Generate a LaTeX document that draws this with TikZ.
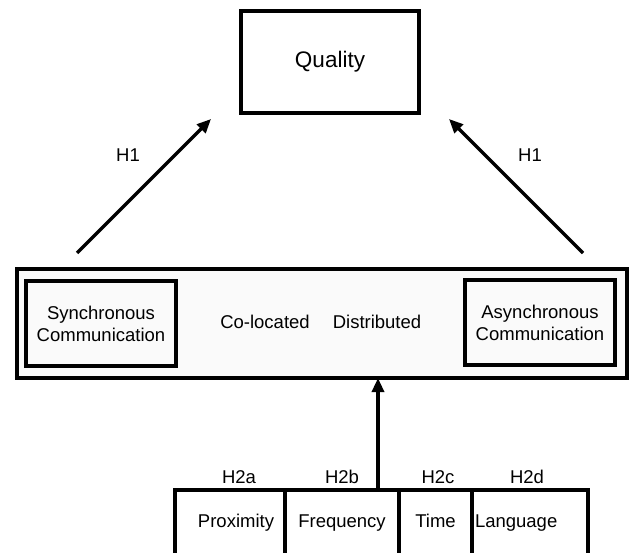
\documentclass[tikz,border=0pt]{standalone}
\usepackage{fontspec}
\setmainfont{Liberation Sans}
\usetikzlibrary{arrows.meta}
\begin{document}
\begin{tikzpicture}[x=1pt,y=-1pt,
  every node/.style={outer sep=0pt,inner sep=0pt},
  txt/.style={font=\fontsize{18.5}{22}\selectfont},
  box/.style={draw,line width=3.2pt,txt,align=center},
  cell/.style={draw,line width=3.2pt,txt,minimum height=66pt,text height=13.5pt,text depth=4pt},
  arr/.style={line width=3.2pt,-{Triangle[length=14pt,width=12pt]}}]
\useasboundingbox (0,0) rectangle (629,553);
\node[box,minimum width=178pt,minimum height=102pt,font=\fontsize{22.5}{26}\selectfont] (quality) at (330,62) {Quality};
\node[box,fill=gray!4,minimum width=610pt,minimum height=109pt] (main) at (322,323.5) {};
\node[box,minimum width=150pt,minimum height=85pt] (sync) at (101,323.5) {Synchronous\\Communication};
\node[box,minimum width=150pt,minimum height=85pt] (async) at (540,322.5) {Asynchronous\\Communication};
\node[txt] (coloc) at (265,322) {Co-located};
\node[txt] (distr) at (377,322) {Distributed};
\begin{scope}
\clip (0,0) rectangle (629,553);
\node[cell,minimum width=110pt] (prox) at (230,523) {\hspace*{12pt}Proximity};
\node[cell,minimum width=114pt] (freq) at (342,523) {Frequency};
\node[cell,minimum width=73pt] (time) at (435.5,523) {Time};
\node[cell,minimum width=116pt,text width=110pt,align=left] (lang) at (530,523) {Language};
\end{scope}
\node[txt] (h2a) at (239,477) {H2a};
\node[txt] (h2b) at (342,477) {H2b};
\node[txt] (h2c) at (438,477) {H2c};
\node[txt] (h2d) at (527,477) {H2d};
\coordinate (ls) at (77,253);
\coordinate (lt) at (211,119);
\coordinate (rs) at (583,253);
\coordinate (rt) at (449,119);
\draw[arr] (ls) -- (lt);
\draw[arr] (rs) -- (rt);
\node[txt] (h1l) at (128,155) {H1};
\node[txt] (h1r) at (530,155) {H1};
\coordinate (fs) at (378,490);
\draw[arr] (fs) -- (fs |- main.south);
\end{tikzpicture}
\end{document}
